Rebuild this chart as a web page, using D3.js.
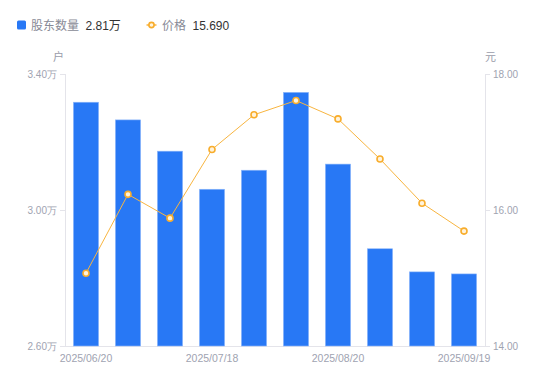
<!DOCTYPE html>
<html>
<head>
<meta charset="utf-8">
<script src="https://cdn.jsdelivr.net/npm/d3@7"></script>
<style>
    body { margin: 0; background: #fff; }
    svg { font-family: "Liberation Sans", "Noto Sans CJK SC", sans-serif; }
    .tick text { fill: #a0a3b1; font-size: 10px; }
</style>
</head>
<body>
<svg id="svg" width="550" height="381"></svg>
<script>
// Report dates (only some are labelled on the axis)
let dates = ["2025/06/20", "2025/06/30", "2025/07/10", "2025/07/18", "2025/07/31",
             "2025/08/08", "2025/08/20", "2025/08/29", "2025/09/10", "2025/09/19"];
// Shareholder count, in 万户
let holders = [3.317, 3.265, 3.173, 3.061, 3.117, 3.346, 3.135, 2.886, 2.818, 2.812];
// Share price, in 元
let prices = [15.07, 16.23, 15.88, 16.89, 17.40, 17.61, 17.34, 16.75, 16.10, 15.69];
let leftTicks = [2.6, 3.0, 3.4];
let rightTicks = [14, 16, 18];
let shownDates = ["2025/06/20", "2025/07/18", "2025/08/20", "2025/09/19"];

let svg = d3.select("#svg");
let plotLeft = 65, plotRight = 485, plotTop = 74, plotBottom = 346;

let x = d3.scaleBand().domain(dates).range([plotLeft, plotRight]).paddingInner(0.4).paddingOuter(0.2);
let yLeft = d3.scaleLinear().domain([2.6, 3.4]).range([plotBottom, plotTop]);
let yRight = d3.scaleLinear().domain([14, 18]).range([plotBottom, plotTop]);

//Axes
let gl = svg.append("g").attr("transform", "translate(" + plotLeft + ",0)")
    .call(d3.axisLeft(yLeft).tickValues(leftTicks).tickSize(5).tickPadding(3)
        .tickFormat(d => d.toFixed(2) + "万"));
let gr = svg.append("g").attr("transform", "translate(" + plotRight + ",0)")
    .call(d3.axisRight(yRight).tickValues(rightTicks).tickSize(5).tickPadding(3)
        .tickFormat(d => d.toFixed(2)));
let gb = svg.append("g").attr("transform", "translate(0," + plotBottom + ")")
    .call(d3.axisBottom(x).tickValues(shownDates).tickSize(0).tickPadding(9));
[gl, gr, gb].forEach(g => {
    g.selectAll(".domain, line").attr("stroke", "#e4e4ea");
});
gl.select(".domain").attr("d", "M0.5," + plotTop + "V" + plotBottom);
gr.select(".domain").attr("d", "M0.5," + plotTop + "V" + plotBottom);
gb.select(".domain").attr("d", "M" + (plotLeft - 5) + ",0.5H" + plotRight);
gb.selectAll("text").style("font-size", "10.5px");

//Axis units
svg.append("text").attr("x", 64).attr("y", 61).attr("text-anchor", "end")
    .style("font-size", "11px").style("fill", "#9a9caa").text("户");
svg.append("text").attr("x", 485).attr("y", 61)
    .style("font-size", "11px").style("fill", "#9a9caa").text("元");

//Bars
svg.append("g").selectAll("rect").data(holders).join("rect")
    .attr("x", (d, i) => x(dates[i]))
    .attr("y", d => yLeft(d))
    .attr("width", x.bandwidth())
    .attr("height", d => plotBottom - yLeft(d))
    .attr("fill", "#2878f5")
    .attr("stroke", "#8fb8fa")
    .attr("stroke-width", 0.6);

//Price line
let cx = i => x(dates[i]) + x.bandwidth() / 2;
svg.append("path").datum(prices)
    .attr("fill", "none").attr("stroke", "#f8b540").attr("stroke-width", 1)
    .attr("d", d3.line().x((d, i) => cx(i)).y(d => yRight(d)));
svg.append("g").selectAll("circle").data(prices).join("circle")
    .attr("cx", (d, i) => cx(i)).attr("cy", d => yRight(d)).attr("r", 3)
    .attr("fill", "#fff3dc").attr("stroke", "#f8ad2c").attr("stroke-width", 1.6);

//Legend
let legend = svg.append("g");
legend.append("rect").attr("x", 17).attr("y", 20.5).attr("width", 9).attr("height", 9)
    .attr("rx", 1.5).attr("fill", "#2878f5");
legend.append("text").attr("x", 31).attr("y", 29.5).style("font-size", "12px")
    .style("fill", "#888a96").text("股东数量");
legend.append("text").attr("x", 85.5).attr("y", 29.5).style("font-size", "12px")
    .style("fill", "#333").text(holders[holders.length - 1].toFixed(2) + "万");
legend.append("line").attr("x1", 146.5).attr("x2", 156.5).attr("y1", 25).attr("y2", 25)
    .attr("stroke", "#f8b540").attr("stroke-width", 1.5);
legend.append("circle").attr("cx", 151.5).attr("cy", 25).attr("r", 2.6)
    .attr("fill", "#fff3dc").attr("stroke", "#f8ad2c").attr("stroke-width", 1.6);
legend.append("text").attr("x", 162).attr("y", 29.5).style("font-size", "12px")
    .style("fill", "#888a96").text("价格");
legend.append("text").attr("x", 192.5).attr("y", 29.5).style("font-size", "12px")
    .style("fill", "#333").text(prices[prices.length - 1].toFixed(3));
</script>
</body>
</html>
